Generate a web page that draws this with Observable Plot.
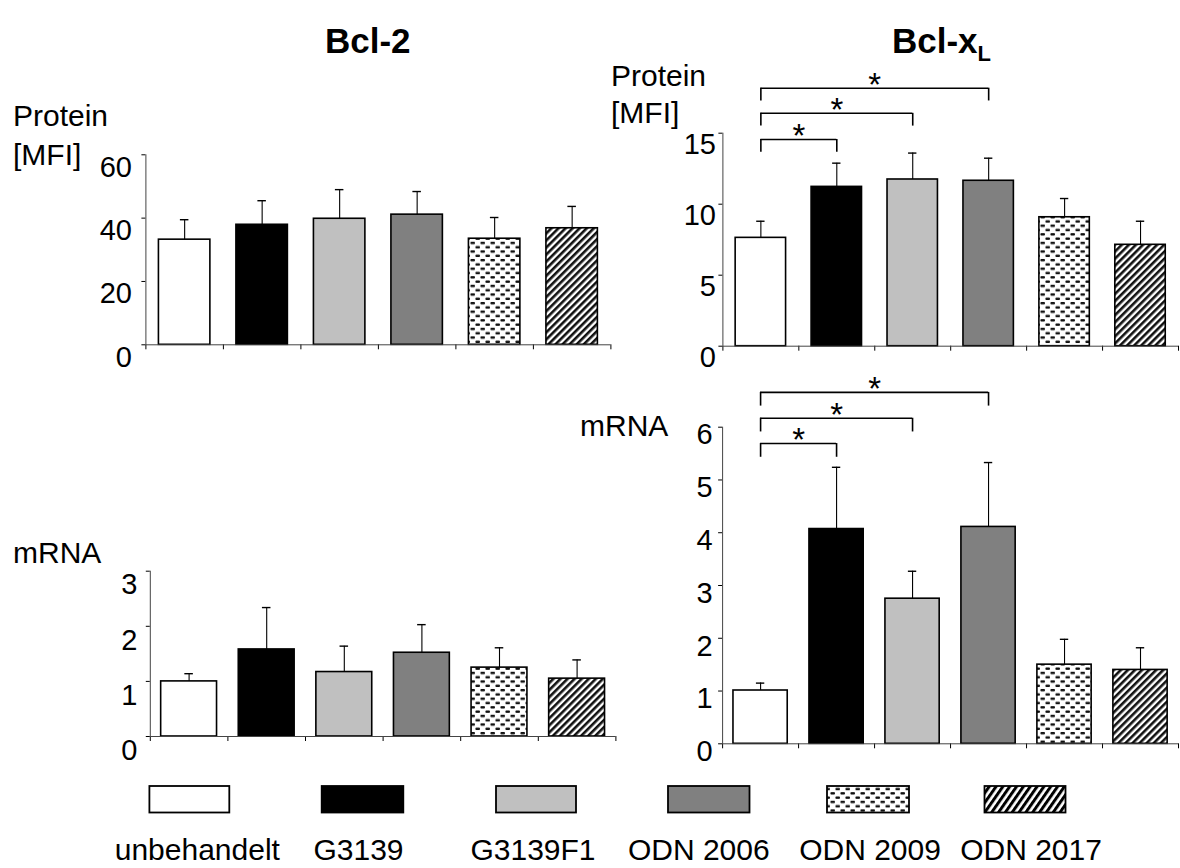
<!DOCTYPE html>
<html>
<head>
<meta charset="utf-8">
<script src="https://cdn.jsdelivr.net/npm/d3@7"></script>
<script src="https://cdn.jsdelivr.net/npm/@observablehq/plot@0.6"></script>
<style>
  body { margin: 0; background: #fff; font-family: "Liberation Sans", Arial, sans-serif; }
  #page { position: relative; width: 1180px; height: 868px; overflow: hidden; background: #fff; }
  #page > svg.plot, #page > svg.layer { position: absolute; left: 0; top: 0; }
  .lbl { position: absolute; font-size: 30px; color: #000; line-height: 1; white-space: nowrap; }
  .title { position: absolute; font-size: 35px; font-weight: bold; color: #000; line-height: 1; white-space: nowrap; }
  .title sub { font-size: 22px; vertical-align: -8px; }
</style>
</head>
<body>
<svg width="0" height="0" style="position:absolute">
  <defs>
    <pattern id="dots" patternUnits="userSpaceOnUse" width="10" height="8.6">
      <rect width="10" height="8.6" fill="#fff"/>
      <rect x="0.4" y="1" width="4.6" height="2.4" rx="1" fill="#111"/>
      <rect x="5.4" y="5.3" width="4.6" height="2.4" rx="1" fill="#111"/>
    </pattern>
    <pattern id="hatch" patternUnits="userSpaceOnUse" width="5" height="5" patternTransform="rotate(45)">
      <rect width="5" height="5" fill="#fff"/>
      <rect width="2.6" height="5" fill="#111"/>
    </pattern>
    <pattern id="hatchL" patternUnits="userSpaceOnUse" width="5.6" height="5.6" patternTransform="rotate(35)">
      <rect width="5.6" height="5.6" fill="#fff"/>
      <rect width="3" height="5.6" fill="#000"/>
    </pattern>
  </defs>
</svg>
<div id="page">
  <div class="title" style="left:325px;top:23px">Bcl-2</div>
  <div class="title" style="left:892px;top:23px">Bcl-x<sub>L</sub></div>
  <div class="lbl" style="left:13px;top:101px">Protein</div>
  <div class="lbl" style="left:13px;top:140px">[MFI]</div>
  <div class="lbl" style="left:611px;top:61px">Protein</div>
  <div class="lbl" style="left:611px;top:98px">[MFI]</div>
  <div class="lbl" style="left:13px;top:538px">mRNA</div>
  <div class="lbl" style="left:580px;top:411px">mRNA</div>
</div>
<script>
// ---- data ----
const categories = ["unbehandelt", "G3139", "G3139F1", "ODN 2006", "ODN 2009", "ODN 2017"];
const fills = ["#ffffff", "#000000", "#c0c0c0", "#808080", "url(#dots)", "url(#hatch)"];
const legendFills = ["#ffffff", "#000000", "#c0c0c0", "#808080", "url(#dots)", "url(#hatchL)"];

// Bcl-2 protein [MFI]
const bcl2Protein = [33.2, 37.9, 39.8, 41.1, 33.5, 36.8];
const bcl2ProteinErr = [6.3, 7.6, 9.2, 7.3, 6.7, 6.9];
const bcl2ProteinTicks = [0, 20, 40, 60];

// Bcl-xL protein [MFI]
const bclxlProtein = [7.63, 11.22, 11.74, 11.65, 9.08, 7.14];
const bclxlProteinErr = [1.17, 1.67, 1.86, 1.59, 1.32, 1.66];
const bclxlProteinTicks = [0, 5, 10, 15];
const bclxlProteinSig = [
  {from: "unbehandelt", to: "G3139", level: 14.56},
  {from: "unbehandelt", to: "G3139F1", level: 16.4},
  {from: "unbehandelt", to: "ODN 2006", level: 18.17}
];

// Bcl-2 mRNA
const bcl2Mrna = [1.00, 1.58, 1.17, 1.52, 1.25, 1.05];
const bcl2MrnaErr = [0.14, 0.76, 0.47, 0.51, 0.36, 0.34];
const bcl2MrnaTicks = [0, 1, 2, 3];

// Bcl-xL mRNA
const bclxlMrna = [1.01, 4.07, 2.75, 4.11, 1.50, 1.40];
const bclxlMrnaErr = [0.14, 1.17, 0.52, 1.22, 0.48, 0.42];
const bclxlMrnaTicks = [0, 1, 2, 3, 4, 5, 6];
const bclxlMrnaSig = [
  {from: "unbehandelt", to: "G3139", level: 5.69},
  {from: "unbehandelt", to: "G3139F1", level: 6.17},
  {from: "unbehandelt", to: "ODN 2006", level: 6.66}
];

// ---- drawing ----
const W = 1180, H = 868;
const page = document.getElementById("page");
const idx = c => categories.indexOf(c);

function panel(o) {
  const data = categories.map((c, i) => ({cat: c, i, v: o.values[i], top: o.values[i] + o.errs[i], fill: fills[i]}));
  const yMax = o.ticks[o.ticks.length - 1];
  const cap = 0.055;
  const marks = [
    Plot.rect(data, {x1: d => d.i + o.pad, x2: d => d.i + 1 - o.pad, y1: 0, y2: "v", fill: "fill", stroke: "#000", strokeWidth: 1.6}),
    Plot.ruleX(data, {x: d => d.i + 0.5, y1: "v", y2: "top", stroke: "#000", strokeWidth: 1.1}),
    Plot.ruleY(data, {y: "top", x1: d => d.i + 0.5 - cap, x2: d => d.i + 0.5 + cap, stroke: "#000", strokeWidth: 1.4}),
    Plot.ruleX([0], {y1: 0, y2: yMax, stroke: "#444", strokeWidth: 1}),
    Plot.ruleY([0], {x1: 0, x2: categories.length, stroke: "#444", strokeWidth: 1}),
    Plot.text(o.ticks, {x: 0, y: d => d, text: d => String(d), textAnchor: "end", dx: -o.labelDx, dy: o.labelDy, fontSize: 29, fill: "#000"})
  ];
  if (o.sig) {
    const sig = o.sig.map(s => ({a: idx(s.from) + 0.5, b: idx(s.to) + 0.5, level: s.level}));
    marks.push(
      Plot.ruleY(sig, {y: "level", x1: "a", x2: "b", stroke: "#000", strokeWidth: 1.6}),
      Plot.ruleX(sig, {x: "a", y1: "level", y2: d => d.level - o.leg, stroke: "#000", strokeWidth: 1.6}),
      Plot.ruleX(sig, {x: "b", y1: "level", y2: d => d.level - o.leg, stroke: "#000", strokeWidth: 1.6}),
      Plot.text(sig, {x: d => (d.a + d.b) / 2, y: "level", text: () => "*", fontSize: 33, dy: -3, fill: "#000"})
    );
  }
  const svg = Plot.plot({
    width: W, height: H,
    marginLeft: o.x0, marginRight: W - o.x1,
    marginTop: o.yTop, marginBottom: H - o.yZero,
    style: {background: "transparent", overflow: "visible", fontFamily: "Liberation Sans, Arial, sans-serif"},
    x: {type: "linear", domain: [0, categories.length], ticks: d3.range(categories.length + 1), tickSize: 5, tickFormat: () => "", label: null},
    y: {domain: [0, yMax], ticks: o.ticks, tickSize: 4, tickFormat: () => "", label: null},
    color: {type: "identity"},
    marks
  });
  svg.classList.add("plot");
  page.appendChild(svg);
}

panel({values: bcl2Protein, errs: bcl2ProteinErr, ticks: bcl2ProteinTicks,
  x0: 145.4, x1: 610.4, yTop: 154.3, yZero: 344.3, pad: 0.168, labelDx: 14, labelDy: 12.5});
panel({values: bclxlProtein, errs: bclxlProteinErr, ticks: bclxlProteinTicks, sig: bclxlProteinSig, leg: 0.9,
  x0: 722.4, x1: 1178, yTop: 132.7, yZero: 345.7, pad: 0.168, labelDx: 7, labelDy: 12});
panel({values: bcl2Mrna, errs: bcl2MrnaErr, ticks: bcl2MrnaTicks,
  x0: 149.8, x1: 615.4, yTop: 570.7, yZero: 736, pad: 0.14, labelDx: 13, labelDy: 14});
panel({values: bclxlMrna, errs: bclxlMrnaErr, ticks: bclxlMrnaTicks, sig: bclxlMrnaSig, leg: 0.26,
  x0: 722.1, x1: 1178, yTop: 426.7, yZero: 743.3, pad: 0.143, labelDx: 10, labelDy: 8});

// ---- legend ----
const legendBoxes = [[149.4, 229.3], [321.7, 403.3], [496, 576], [668, 749.5], [827, 909], [984.5, 1065.5]];
const legendLabelShift = [8, -4, -3, -10, 2, 6];
const lg = d3.select(page).append("svg").attr("class", "layer").attr("width", W).attr("height", H);
lg.selectAll("rect").data(categories).join("rect")
  .attr("x", (d, i) => legendBoxes[i][0]).attr("y", 786)
  .attr("width", (d, i) => legendBoxes[i][1] - legendBoxes[i][0]).attr("height", 26.5)
  .attr("fill", (d, i) => legendFills[i]).attr("stroke", "#000").attr("stroke-width", 1.8);
lg.selectAll("text").data(categories).join("text")
  .attr("x", (d, i) => (legendBoxes[i][0] + legendBoxes[i][1]) / 2 + legendLabelShift[i]).attr("y", 860)
  .attr("text-anchor", "middle")
  .attr("font-size", 30).attr("font-family", "Liberation Sans, Arial, sans-serif").attr("fill", "#000")
  .text(d => d);
</script>
</body>
</html>
